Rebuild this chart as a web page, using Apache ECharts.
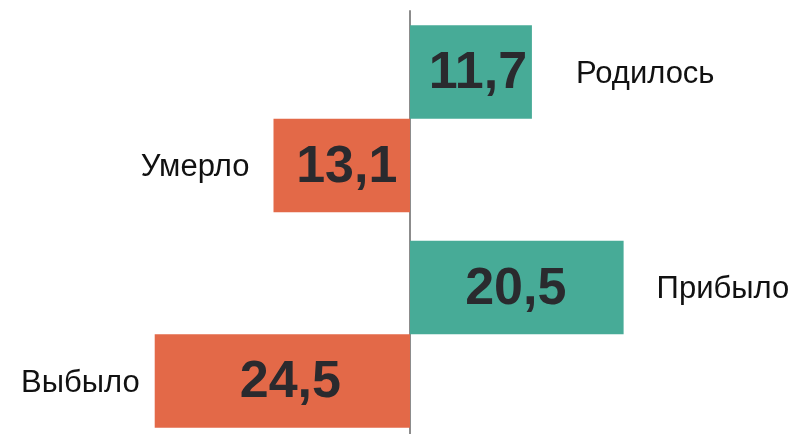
<!DOCTYPE html>
<html>
<head>
<meta charset="utf-8">
<script src="https://cdn.jsdelivr.net/npm/echarts@6/dist/echarts.min.js"></script>
<style>
html,body{margin:0;padding:0;background:#fff;}
#chart{width:795px;height:434px;}
</style>
</head>
<body>
<div id="chart"></div>
<script>
// ---- data ----
const groups = ['Естественное движение', 'Миграция'];
const gainNames = ['Родилось', 'Прибыло'];
const gainValues = [11.7, 20.5];
const lossNames = ['Умерло', 'Выбыло'];
const lossValues = [13.1, 24.5];

// ---- styling / layout ----
const GREEN = '#47ab97';
const ORANGE = '#e36948';
const TEXT = '#2a2a2e';
const fmt = v => Math.abs(v).toFixed(1).replace('.', ',');
const gainNameGap = [44, 33];
const lossNameGap = [24, 15];
const gainValueShift = [7, -1];
const lossValueShift = [5, 8];

const chart = echarts.init(document.getElementById('chart'));

const valueLabel = (dx) => ({
  show: true,
  position: 'inside',
  offset: [dx, 2],
  formatter: p => fmt(p.value),
  color: TEXT,
  fontFamily: 'Liberation Sans, Arial, sans-serif',
  fontWeight: 'bold',
  fontSize: 52
});
const nameLabelBase = {
  show: true,
  color: '#111',
  offset: [0, 2],
  fontFamily: 'Liberation Sans, Arial, sans-serif',
  fontSize: 31
};

chart.setOption({
  animation: false,
  grid: { left: 97.4, width: 625.2, top: 11, height: 431, outerBoundsMode: 'none', containLabel: false },
  xAxis: { type: 'value', min: -30, max: 30, show: false },
  yAxis: [
    {
      type: 'category', data: groups, inverse: true,
      axisLine: { show: true, onZero: true, lineStyle: { color: '#8c8c8c', width: 2 } },
      axisTick: { show: false }, axisLabel: { show: false }, splitLine: { show: false }
    },
    {
      type: 'category', data: groups, inverse: true, show: false
    }
  ],
  series: [
    {
      type: 'bar', yAxisIndex: 0, name: 'gain',
      data: gainValues.map((v, i) => ({ value: v, label: valueLabel(gainValueShift[i]) })),
      itemStyle: { color: GREEN },
      barGap: 0, barCategoryGap: '13.2%', z: 2
    },
    {
      type: 'bar', yAxisIndex: 0, name: 'loss',
      data: lossValues.map((v, i) => ({ value: -v, label: valueLabel(lossValueShift[i]) })),
      itemStyle: { color: ORANGE },
      barGap: 0, barCategoryGap: '13.2%', z: 2
    },
    {
      type: 'bar', yAxisIndex: 1, name: 'gainNames',
      data: gainValues.map((v, i) => ({
        value: v,
        label: Object.assign({}, nameLabelBase, { position: 'right', distance: gainNameGap[i], formatter: gainNames[i] })
      })),
      itemStyle: { color: 'rgba(0,0,0,0)' },
      barGap: 0, barCategoryGap: '13.2%', silent: true, z: 1
    },
    {
      type: 'bar', yAxisIndex: 1, name: 'lossNames',
      data: lossValues.map((v, i) => ({
        value: -v,
        label: Object.assign({}, nameLabelBase, { position: 'left', distance: lossNameGap[i], formatter: lossNames[i] })
      })),
      itemStyle: { color: 'rgba(0,0,0,0)' },
      barGap: 0, barCategoryGap: '13.2%', silent: true, z: 1
    }
  ]
});
</script>
</body>
</html>
